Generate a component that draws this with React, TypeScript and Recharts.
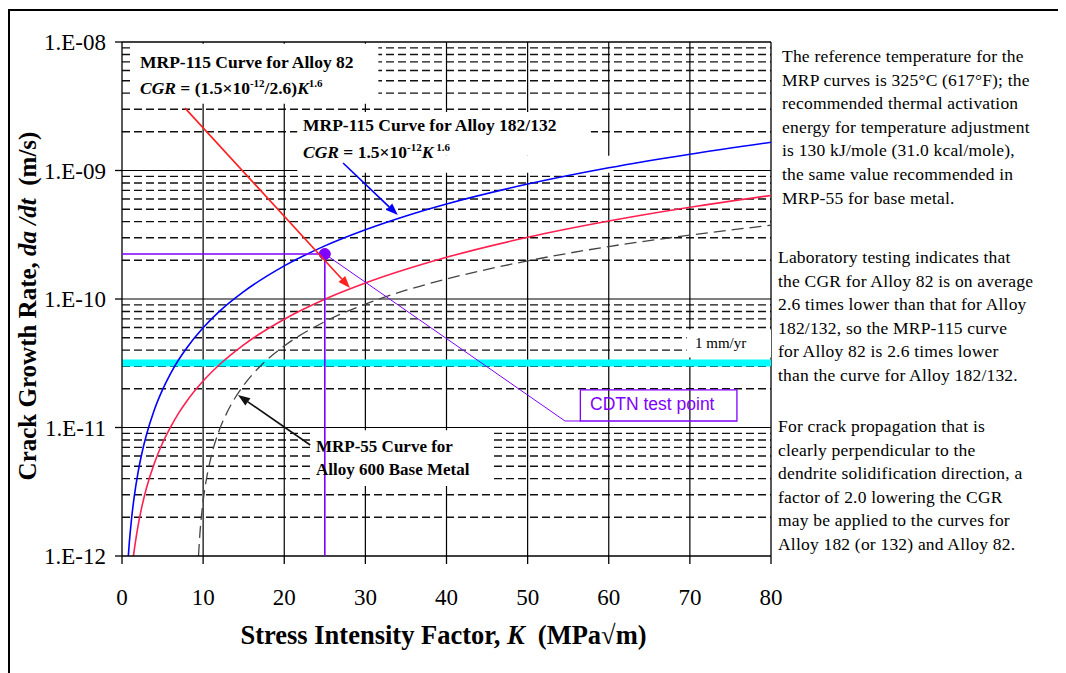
import React from 'react';
import {
  ComposedChart,
  Line,
  XAxis,
  YAxis,
  ReferenceLine,
  ReferenceArea,
  ReferenceDot,
} from 'recharts';

// ---------- axes ----------
const xTicks = [0, 10, 20, 30, 40, 50, 60, 70, 80];
const yTicks = [1e-12, 1e-11, 1e-10, 1e-9, 1e-8];
const yTickLabels = ['1.E-12', '1.E-11', '1.E-10', '1.E-09', '1.E-08'];
const xGridValues = [10, 20, 30, 40, 50, 60, 70];
const yDecadeGrid = [1e-11, 1e-10, 1e-9];
const yMinorGrid = [
  2e-12, 3e-12, 4e-12, 5e-12, 6e-12, 7e-12, 8e-12, 9e-12,
  2e-11, 3e-11, 4e-11, 5e-11, 6e-11, 7e-11, 8e-11, 9e-11,
  2e-10, 3e-10, 4e-10, 5e-10, 6e-10, 7e-10, 8e-10, 9e-10,
  2e-9, 3e-9, 4e-9, 5e-9, 6e-9, 7e-9, 8e-9, 9e-9,
];

// ---------- series ----------
const alloy182K = [0.78, 0.9, 1, 1.2, 1.5, 2, 2.5, 3, 4, 5, 6, 7, 8, 10, 12, 15, 20, 25, 30, 35, 40, 50, 60, 70, 80];
const alloy182CGR = [1.0e-12, 1.27e-12, 1.5e-12, 2.01e-12, 2.87e-12, 4.55e-12, 6.5e-12, 8.7e-12, 1.38e-11, 1.97e-11, 2.64e-11, 3.38e-11, 4.18e-11, 5.97e-11, 8.0e-11, 1.14e-10, 1.81e-10, 2.59e-10, 3.46e-10, 4.43e-10, 5.49e-10, 7.84e-10, 1.05e-9, 1.34e-9, 1.66e-9];

const alloy82K = [1.41, 1.6, 2, 2.5, 3, 4, 5, 6, 7, 8, 10, 12, 15, 20, 25, 30, 40, 50, 60, 70, 80];
const alloy82CGR = [1.0e-12, 1.22e-12, 1.75e-12, 2.5e-12, 3.35e-12, 5.3e-12, 7.57e-12, 1.01e-11, 1.3e-11, 1.61e-11, 2.3e-11, 3.08e-11, 4.4e-11, 6.96e-11, 9.95e-11, 1.33e-10, 2.11e-10, 3.02e-10, 4.04e-10, 5.17e-10, 6.4e-10];

const alloy600K = [9.43, 9.6, 10, 10.5, 11, 12, 13, 15, 17, 20, 25, 30, 35, 40, 50, 60, 70, 80];
const alloy600CGR = [1.0e-12, 1.48e-12, 2.67e-12, 4.27e-12, 5.97e-12, 9.55e-12, 1.33e-11, 2.13e-11, 2.98e-11, 4.31e-11, 6.66e-11, 9.13e-11, 1.17e-10, 1.43e-10, 1.98e-10, 2.56e-10, 3.14e-10, 3.75e-10];

const oneMmPerYear = 3.17e-11;
const testPointK = 25;
const testPointCGR = 2.24e-10;
const testLabelElbow = { k: 54.6, cgr: 1.124e-11 };
const testBox = { k1: 56.5, k2: 75.8, c1: 1.124e-11, c2: 1.96e-11 };

const redArrow = [{ x: 7.77, y: 3.06e-9 }, { x: 28.1, y: 1.22e-10 }];
const blueArrow = [{ x: 27.25, y: 1.143e-9 }, { x: 34.0, y: 4.5e-10 }];
const blackArrow = [{ x: 23.2, y: 7.31e-12 }, { x: 14.3, y: 1.79e-11 }];

// white label backgrounds hiding the grid (data coords)
const whiteBoxes = [
  { k1: 0.99, k2: 31.6, c1: 3.3e-9, c2: 9.7e-9 },
  { k1: 21.6, k2: 57.8, c1: 1.3e-9, c2: 2.85e-9 },
  { k1: 21.6, k2: 60.6, c1: 9.6e-10, c2: 1.3e-9 },
  { k1: 23.2, k2: 45.4, c1: 3.5e-12, c2: 9.5e-12 },
  { k1: 69.6, k2: 80, c1: 3.5e-11, c2: 5.8e-11 },
];

const toRows = (ks: number[], cs: number[]) => ks.map((k, i) => ({ k, cgr: cs[i] }));
const alloy182Data = toRows(alloy182K, alloy182CGR);
const alloy82Data = toRows(alloy82K, alloy82CGR);
const alloy600Data = toRows(alloy600K, alloy600CGR);

const SERIF = '"Liberation Serif", "Times New Roman", serif';
const SANS = '"Liberation Sans", Arial, sans-serif';
const PURPLE = '#8000ff';

const arrowShape = (color: string) => (props: any) => {
  const { x1, y1, x2, y2 } = props;
  if ([x1, y1, x2, y2].some((v) => typeof v !== 'number' || isNaN(v))) return <g />;
  const ang = Math.atan2(y2 - y1, x2 - x1);
  const L = 12;
  const W = 4.5;
  const bx = x2 - L * Math.cos(ang);
  const by = y2 - L * Math.sin(ang);
  const px = -Math.sin(ang) * W;
  const py = Math.cos(ang) * W;
  return (
    <g>
      <line x1={x1} y1={y1} x2={bx} y2={by} stroke={color} strokeWidth={1.6} />
      <polygon points={`${x2},${y2} ${bx + px},${by + py} ${bx - px},${by - py}`} fill={color} />
    </g>
  );
};

const sup = (t: string) => (
  <span style={{ fontSize: 11, position: 'relative', top: -7 }}>{t}</span>
);

const abs = (left: number, top: number, extra: React.CSSProperties = {}): React.CSSProperties => ({
  position: 'absolute',
  left,
  top,
  whiteSpace: 'nowrap',
  fontFamily: SERIF,
  color: '#000',
  ...extra,
});

const para1 = [
  'The reference temperature for the',
  'MRP curves is 325°C (617°F); the',
  'recommended thermal activation',
  'energy for temperature adjustment',
  'is 130 kJ/mole (31.0 kcal/mole),',
  'the same value recommended in',
  'MRP-55 for base metal.',
];
const para2 = [
  'Laboratory testing indicates that',
  'the CGR for Alloy 82 is on average',
  '2.6 times lower than that for Alloy',
  '182/132, so the MRP-115 curve',
  'for Alloy 82 is 2.6 times lower',
  'than the curve for Alloy 182/132.',
];
const para3 = [
  'For crack propagation that is',
  'clearly perpendicular to the',
  'dendrite solidification direction, a',
  'factor of 2.0 lowering the CGR',
  'may be applied to the curves for',
  'Alloy 182 (or 132) and Alloy 82.',
];

const Para = ({ lines, left, top }: { lines: string[]; left: number; top: number }) => (
  <div style={abs(left, top, { fontSize: 17.5, lineHeight: '23.6px', letterSpacing: 0.2 })}>
    {lines.map((l, i) => (
      <div key={i}>{l}</div>
    ))}
  </div>
);

export default function App() {
  const bold: React.CSSProperties = { fontWeight: 'bold', fontSize: 17.5, lineHeight: '22px' };
  return (
    <div style={{ position: 'relative', width: 1058, height: 665, background: '#fff', overflow: 'hidden' }}>
      <ComposedChart
        width={1058}
        height={665}
        margin={{ top: 34, right: 295, bottom: 57, left: 14 }}
      >
        {/* grid */}
        {yMinorGrid.map((v) => (
          <ReferenceLine key={'m' + v} y={v} stroke="#111" strokeWidth={1.4} strokeDasharray="8 4" zIndex={-100} />
        ))}
        {yDecadeGrid.map((v) => (
          <ReferenceLine key={'d' + v} y={v} stroke="#000" strokeWidth={1.2} zIndex={-100} />
        ))}
        {xGridValues.map((v) => (
          <ReferenceLine key={'x' + v} x={v} stroke="#000" strokeWidth={1.2} zIndex={-100} />
        ))}
        <ReferenceLine y={1e-8} stroke="#000" strokeWidth={1.3} zIndex={-100} />
        <ReferenceLine x={80} stroke="#000" strokeWidth={1.3} zIndex={-100} />

        {/* white label backgrounds */}
        {whiteBoxes.map((b, i) => (
          <ReferenceArea
            key={'w' + i}
            x1={b.k1}
            x2={b.k2}
            y1={b.c1}
            y2={b.c2}
            fill="#fff"
            fillOpacity={1}
            stroke="none"
            zIndex={-50}
          />
        ))}

        {/* 1 mm/yr */}
        <ReferenceLine y={oneMmPerYear} stroke="#00ffff" strokeWidth={7} zIndex={350} />

        {/* curves */}
        <Line
          data={alloy600Data}
          dataKey="cgr"
          type="monotone"
          stroke="#444"
          strokeWidth={1.3}
          strokeDasharray="12 6"
          dot={false}
          isAnimationActive={false}
        />
        <Line
          data={alloy82Data}
          dataKey="cgr"
          type="monotone"
          stroke="#ff2050"
          strokeWidth={1.6}
          dot={false}
          isAnimationActive={false}
        />
        <Line
          data={alloy182Data}
          dataKey="cgr"
          type="monotone"
          stroke="#0000ff"
          strokeWidth={1.6}
          dot={false}
          isAnimationActive={false}
        />

        {/* CDTN test point */}
        <ReferenceLine
          segment={[{ x: 0, y: testPointCGR }, { x: testPointK, y: testPointCGR }]}
          stroke={PURPLE}
          strokeWidth={1.6}
          zIndex={600}
        />
        <ReferenceLine
          segment={[{ x: testPointK, y: testPointCGR }, { x: testPointK, y: 1e-12 }]}
          stroke={PURPLE}
          strokeWidth={1.6}
          zIndex={600}
        />
        <ReferenceLine
          segment={[{ x: testPointK, y: testPointCGR }, { x: testLabelElbow.k, y: testLabelElbow.cgr }]}
          stroke={PURPLE}
          strokeWidth={1}
          zIndex={600}
        />
        <ReferenceLine
          segment={[{ x: testLabelElbow.k, y: testLabelElbow.cgr }, { x: testBox.k1, y: testLabelElbow.cgr }]}
          stroke={PURPLE}
          strokeWidth={1}
          zIndex={600}
        />
        <ReferenceArea
          x1={testBox.k1}
          x2={testBox.k2}
          y1={testBox.c1}
          y2={testBox.c2}
          fill="none"
          fillOpacity={0}
          stroke={PURPLE}
          strokeWidth={1.3}
          zIndex={600}
        />
        <ReferenceDot x={testPointK} y={testPointCGR} r={5.5} fill={PURPLE} stroke={PURPLE} zIndex={650} />

        {/* arrows */}
        <ReferenceLine segment={redArrow} shape={arrowShape('#ff2020')} zIndex={650} />
        <ReferenceLine segment={blueArrow} shape={arrowShape('#0000ff')} zIndex={650} />
        <ReferenceLine segment={blackArrow} shape={arrowShape('#111')} zIndex={650} />

        <XAxis
          dataKey="k"
          type="number"
          domain={[0, 80]}
          ticks={xTicks}
          allowDataOverflow
          height={60}
          tickSize={8}
          tickMargin={25}
          axisLine={{ stroke: '#000', strokeWidth: 1.3 }}
          tickLine={{ stroke: '#000', strokeWidth: 1.3 }}
          tick={{ fontSize: 23, fontFamily: SERIF, fill: '#000' }}
          interval={0}
        />
        <YAxis
          type="number"
          scale="log"
          domain={[1e-12, 1e-8]}
          ticks={yTicks}
          allowDataOverflow
          width={100}
          tickSize={7}
          tickMargin={9}
          axisLine={{ stroke: '#000', strokeWidth: 1.3 }}
          tickLine={{ stroke: '#000', strokeWidth: 1.3 }}
          tick={{ fontSize: 23, fontFamily: SERIF, fill: '#000' }}
          tickFormatter={(v: number) => yTickLabels[yTicks.findIndex((t) => Math.abs(t - v) / t < 1e-6)] ?? ''}
          interval={0}
        />
      </ComposedChart>

      {/* frame */}
      <div style={{ position: 'absolute', left: 0, top: 1, width: 1058, height: 2, background: '#000' }} />
      <div style={{ position: 'absolute', left: 0, top: 1, width: 2, height: 664, background: '#000' }} />

      {/* axis titles */}
      <div
        style={abs(135.5, 612, {
          width: 600,
          textAlign: 'center',
          fontSize: 26.5,
          fontWeight: 'bold',
          lineHeight: '30px',
        })}
      >
        Stress Intensity Factor, <i>K</i>&nbsp; (MPa√m)
      </div>
      <div
        style={abs(-230, 283, {
          width: 500,
          textAlign: 'center',
          fontSize: 25,
          fontWeight: 'bold',
          lineHeight: '30px',
          transform: 'rotate(-90deg)',
        })}
      >
        Crack Growth Rate, <i>da /dt</i>&nbsp; (m/s)
      </div>

      {/* curve labels */}
      <div style={abs(132, 43, bold)}>MRP-115 Curve for Alloy 82</div>
      <div style={abs(132, 69, bold)}>
        <i>CGR</i> = (1.5×10{sup('-12')}/2.6)<i>K</i>
        {sup('1.6')}
      </div>
      <div style={abs(295, 106, bold)}>MRP-115 Curve for Alloy 182/132</div>
      <div style={abs(295, 133, bold)}>
        <i>CGR</i> = 1.5×10{sup('-12')}
        <i>K</i>
        {sup(' 1.6')}
      </div>
      <div style={abs(308, 428, { ...bold, fontSize: 17 })}>MRP-55 Curve for</div>
      <div style={abs(308, 451, { ...bold, fontSize: 17 })}>Alloy 600 Base Metal</div>
      <div style={abs(687, 326, { fontSize: 15, lineHeight: '18px' })}>1 mm/yr</div>
      <div style={abs(582, 386, { fontFamily: SANS, fontSize: 17.5, lineHeight: '20px', color: PURPLE })}>
        CDTN test point
      </div>

      {/* side notes */}
      <Para lines={para1} left={774} top={37} />
      <Para lines={para2} left={770} top={238} />
      <Para lines={para3} left={770} top={407} />
    </div>
  );
}
